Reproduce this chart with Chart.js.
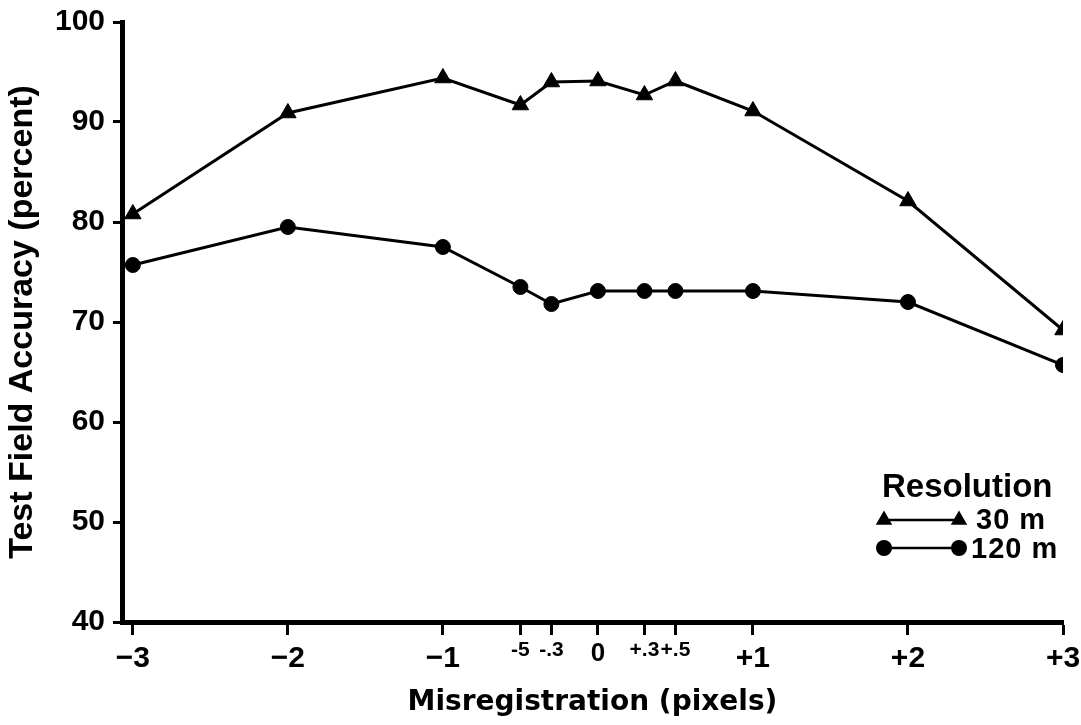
<!DOCTYPE html>
<html><head><meta charset="utf-8">
<script src="https://cdn.jsdelivr.net/npm/chart.js@4.4.1/dist/chart.umd.min.js"></script>
<style>html,body{margin:0;padding:0;background:#fff}#wrap{width:1081px;height:725px}</style>
</head><body><div id="wrap"><canvas id="c" width="1081" height="725"></canvas></div>
<script>
const misregistration = [-3, -2, -1, -0.5, -0.3, 0, 0.3, 0.5, 1, 2, 3];
const tickLabels = ["\u22123", "\u22122", "\u22121", "-5", "-.3", "0", "+.3", "+.5", "+1", "+2", "+3"];
const acc30m = [80.8, 90.9, 94.4, 91.7, 94.0, 94.1, 92.7, 94.1, 91.1, 82.1, 69.2];
const acc120m = [75.7, 79.5, 77.5, 73.5, 71.8, 73.1, 73.1, 73.1, 73.1, 72.0, 65.7];
const yTicks = [40, 50, 60, 70, 80, 90, 100];
const seriesNames = ["30 m", "120 m"];
const legendTitle = "Resolution";
const xTitle = "Misregistration (pixels)";
const yTitle = "Test Field Accuracy (percent)";

const LIB = "'Liberation Sans', Arial, sans-serif";
const DJV = "'DejaVu Sans', sans-serif";

function pts(vals) { return misregistration.map((x, i) => ({ x: x, y: vals[i] })); }

const legendPlugin = {
  id: 'resLegend',
  afterDraw(chart) {
    const ctx = chart.ctx;
    ctx.save();
    ctx.fillStyle = '#000';
    ctx.strokeStyle = '#000';
    ctx.textBaseline = 'alphabetic';
    ctx.textAlign = 'left';
    ctx.font = "bold 33px " + LIB;
    ctx.fillText(legendTitle, 882, 497);
    const x1 = 884, x2 = 959;
    let y = 520;
    ctx.lineWidth = 2.5;
    ctx.beginPath(); ctx.moveTo(x1, y); ctx.lineTo(x2, y); ctx.stroke();
    const tri = (cx, cy, r) => {
      ctx.beginPath();
      ctx.moveTo(cx, cy - r);
      ctx.lineTo(cx + r * 0.866, cy + r * 0.5);
      ctx.lineTo(cx - r * 0.866, cy + r * 0.5);
      ctx.closePath(); ctx.fill();
    };
    tri(x1, y, 9.5); tri(x2, y, 9.5);
    ctx.font = "bold 29px " + LIB;
    try { ctx.letterSpacing = '1px'; } catch (e) {}
    ctx.fillText(seriesNames[0], 976, 529);
    y = 548;
    ctx.beginPath(); ctx.moveTo(x1, y); ctx.lineTo(x2, y); ctx.stroke();
    [x1, x2].forEach(cx => { ctx.beginPath(); ctx.arc(cx, y, 8, 0, Math.PI * 2); ctx.fill(); });
    ctx.fillText(seriesNames[1], 971, 558);
    ctx.restore();
  }
};

new Chart(document.getElementById('c'), {
  type: 'line',
  data: {
    datasets: [
      {
        label: seriesNames[0], data: pts(acc30m),
        borderColor: '#000', backgroundColor: '#000', borderWidth: 3,
        pointStyle: 'triangle', pointRadius: 9.5, pointBorderWidth: 1, tension: 0
      },
      {
        label: seriesNames[1], data: pts(acc120m),
        borderColor: '#000', backgroundColor: '#000', borderWidth: 3,
        pointStyle: 'circle', pointRadius: 7.5, pointBorderWidth: 1, tension: 0
      }
    ]
  },
  options: {
    responsive: false,
    devicePixelRatio: 1,
    animation: false,
    layout: { padding: { top: 22, right: 18, left: 0, bottom: 0 } },
    plugins: { legend: { display: false }, tooltip: { enabled: false } },
    scales: {
      x: {
        type: 'linear', min: -3.07, max: 3,
        afterBuildTicks: s => { s.ticks = misregistration.map(v => ({ value: v })); },
        afterFit: s => { s.height = 103; s.paddingLeft = 0; s.paddingRight = 0; },
        border: { display: true, color: '#000', width: 5 },
        grid: { drawOnChartArea: false, drawTicks: true, tickLength: 13, tickWidth: 3, tickColor: '#000' },
        ticks: {
          color: '#000', padding: 6, maxRotation: 0, autoSkip: false,
          callback: v => tickLabels[misregistration.indexOf(v)],
          font: c => {
            const v = c.tick ? c.tick.value : 1;
            if (v === 0) return { family: LIB, size: 26, weight: 'bold', lineHeight: 1.0 };
            if (Math.abs(v) < 1) return { family: LIB, size: 21, weight: 'bold', lineHeight: 0.85 };
            return { family: LIB, size: 30, weight: 'bold', lineHeight: 1.15 };
          }
        },
        title: { display: true, text: xTitle, color: '#000', font: { family: DJV, size: 28, weight: 'bold', lineHeight: 1 }, padding: { top: 0, bottom: 8 } }
      },
      y: {
        min: 40, max: 100,
        afterBuildTicks: s => { s.ticks = yTicks.map(v => ({ value: v })); },
        afterFit: s => { s.width = 122; s.paddingTop = 0; s.paddingBottom = 0; },
        border: { display: true, color: '#000', width: 5 },
        grid: { drawOnChartArea: false, drawTicks: true, tickLength: 9, tickWidth: 3, tickColor: '#000' },
        ticks: { color: '#000', padding: 8, font: { family: LIB, size: 30, weight: 'bold' } },
        title: { display: true, text: yTitle, color: '#000', font: { family: LIB, size: 34, weight: 'bold', lineHeight: 1 }, padding: { top: 6, bottom: 0 } }
      }
    }
  },
  plugins: [legendPlugin]
});
</script></body></html>
